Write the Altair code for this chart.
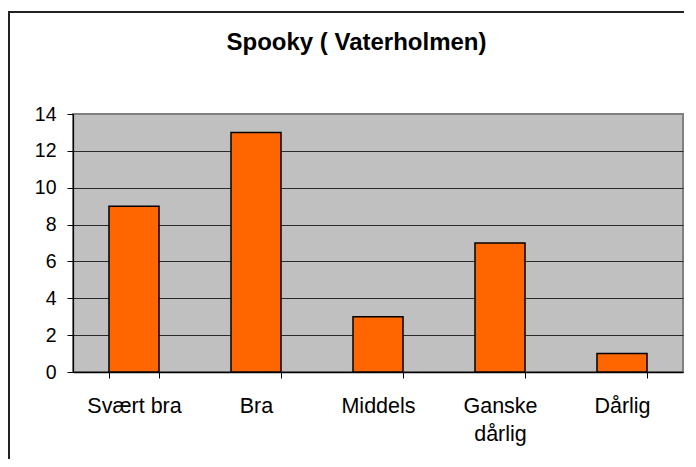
import altair as alt
import pandas as pd

categories = ["Svært bra", "Bra", "Middels", "Ganske dårlig", "Dårlig"]
values = [9, 13, 3, 7, 1]
y_ticks = [0, 2, 4, 6, 8, 10, 12, 14]
title_text = "Spooky ( Vaterholmen)"

df = pd.DataFrame({"kategori": categories, "antall": values})
FONT = "Liberation Sans"

bars = alt.Chart(df).mark_bar(color="#FF6600", stroke="#000000", strokeWidth=1.5).encode(
    x=alt.X(
        "kategori:N", sort=categories, title=None,
        scale=alt.Scale(paddingInner=0.59, paddingOuter=0.295),
        axis=alt.Axis(
            labelAngle=0, tickBand="extent", ticks=True, tickSize=6, tickColor="#000000",
            labelPadding=17, labelFontSize=21.5, labelLineHeight=28, labelFont=FONT,
            labelColor="#000000", labelBaseline="top",
            labelExpr="datum.label == 'Ganske dårlig' ? ['Ganske', 'dårlig'] : datum.label",
            domainColor="#000000", domainWidth=1.5, grid=False,
        ),
    ),
    y=alt.Y(
        "antall:Q", title=None,
        scale=alt.Scale(domain=[0, 14], nice=False),
        axis=alt.Axis(
            values=y_ticks, tickSize=6, tickColor="#000000", labelPadding=11,
            labelFontSize=19.5, labelFont=FONT, labelColor="#000000",
            domainColor="#000000", domainWidth=1.2, grid=True,
            gridColor={"condition": {"test": "datum.value == 14", "value": "#808080"}, "value": "#2a2a2a"},
            gridWidth=1.2,
        ),
    ),
)

one = pd.DataFrame({"a": [0]})
frame_left = alt.Chart(one).mark_rule(color="#222222", strokeWidth=2).encode(
    x=alt.value(-64), y=alt.value(-103), y2=alt.value(400)
)
frame_top = alt.Chart(one).mark_rule(color="#222222", strokeWidth=2).encode(
    x=alt.value(-65), x2=alt.value(700), y=alt.value(-102)
)

title = alt.Chart(pd.DataFrame({"t": [title_text]})).mark_text(
    font=FONT, fontSize=24, fontWeight="bold", baseline="alphabetic", align="center", color="#000000"
).encode(x=alt.value(283.5), y=alt.value(-64), text="t:N")

chart = alt.layer(frame_left, frame_top, bars, title).properties(
    width=610, height=258,
    padding={"left": 65, "top": 106, "right": 1, "bottom": 87},
    autosize=alt.AutoSizeParams(type="none"),
    background="#FFFFFF",
).configure_view(
    fill="#C0C0C0", stroke="#808080", strokeWidth=2
)

chart.save("out.html", embed_options={"renderer": "svg", "actions": False})
